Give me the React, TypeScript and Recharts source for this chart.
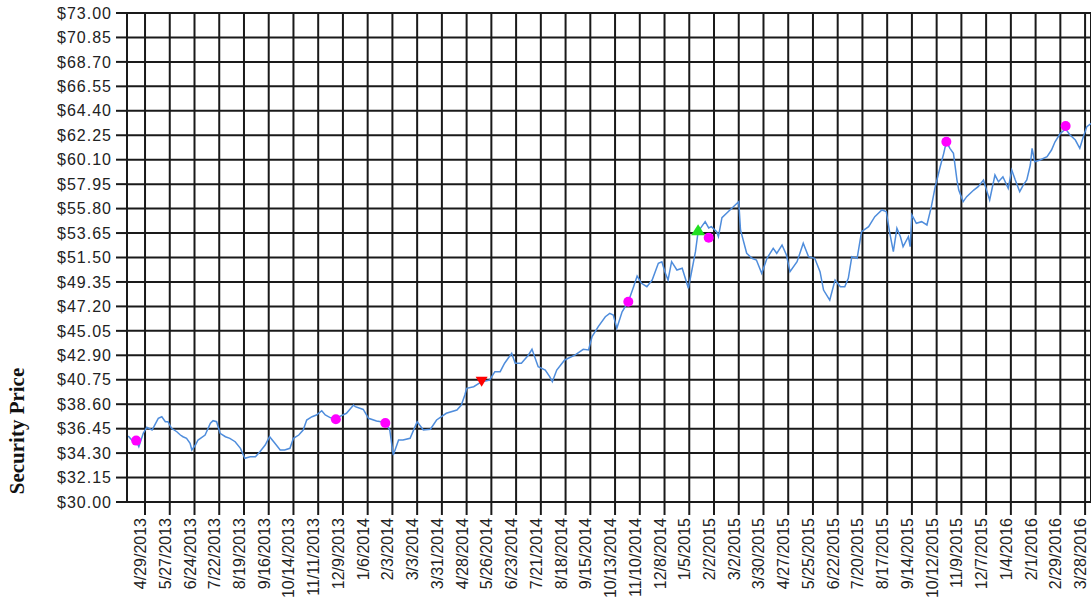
import React from 'react';
import { ComposedChart, Line, Scatter, XAxis, YAxis, CartesianGrid } from 'recharts';

// x values are days counted from 4/29/2013
const days = [
  -19, -15, -10, -7, -2, 2, 8, 15, 19, 23, 26, 30, 36, 40, 43, 47, 51, 53, 57, 60,
  68, 74, 77, 81, 85, 91, 96, 102, 108, 113, 119, 125, 130, 136, 141, 147, 153, 158, 164, 168,
  174, 179, 183, 189, 194, 200, 204, 210, 217, 228, 236, 238, 247, 253, 262, 272, 277, 281, 287, 292,
  300, 308, 315, 323, 330, 341, 353, 358, 362, 364, 372, 381, 390, 396, 402, 407, 415, 419, 426, 434,
  438, 441, 445, 453, 458, 461, 466, 475, 487, 496, 502, 506, 513, 521, 526, 530, 534, 540, 547, 553,
  557, 562, 568, 574, 581, 585, 589, 592, 596, 602, 608, 615, 619, 623, 626, 634, 638, 641, 647, 649,
  653, 660, 668, 672, 674, 681, 687, 692, 698, 704, 711, 715, 721, 726, 730, 738, 745, 751, 758, 764,
  768, 775, 781, 787, 792, 796, 800, 806, 811, 819, 826, 834, 839, 843, 847, 851, 855, 858, 864, 866,
  868, 873, 879, 885, 890, 894, 900, 904, 907, 911, 915, 919, 921, 926, 930, 938, 943, 949, 953, 956,
  962, 966, 971, 977, 981, 985, 990, 994, 998, 1002, 1004, 1007, 1013, 1021, 1026, 1030, 1036, 1042, 1047, 1053,
  1058, 1062, 1066, 1071,
];

const prices = [
  35.8, 35.45, 35.4, 34.86, 36.04, 36.57, 36.33, 37.36, 37.5, 37.06, 37.06, 36.48, 36.18, 35.89, 35.74, 35.6, 35.16, 34.57, 35.01, 35.45,
  35.89, 36.92, 37.15, 37.06, 36.04, 35.74, 35.6, 35.3, 34.72, 33.84, 33.98, 33.98, 34.42, 35.01, 35.74, 35.16, 34.57, 34.57, 34.72, 35.6,
  35.89, 36.33, 37.21, 37.5, 37.65, 38.03, 37.65, 37.4, 37.4, 37.8, 38.53, 38.38, 38.14, 37.36, 37.13, 37.0, 36.33, 34.13, 35.45, 35.45,
  35.6, 37.06, 36.33, 36.4, 37.21, 37.8, 38.09, 38.53, 39.41, 40.0, 40.14, 40.58, 40.73, 41.46, 41.46, 42.2, 43.08, 42.2, 42.2, 42.93,
  43.43, 42.78, 41.9, 41.6, 41.02, 40.58, 41.6, 42.49, 42.93, 43.43, 43.37, 44.54, 45.42, 46.29, 46.59, 46.44, 45.27, 46.73, 47.61, 48.93,
  49.87, 49.23, 48.93, 49.52, 50.99, 51.13, 50.11, 49.52, 51.13, 50.4, 50.55, 48.79, 50.4, 52.01, 53.77, 54.65, 54.1, 54.21, 53.77, 53.33,
  55.0, 55.53, 56.12, 56.41, 53.92, 51.87, 51.43, 51.28, 50.11, 51.43, 52.31, 51.87, 52.6, 51.72, 50.25, 51.13, 52.75, 51.57, 51.43, 50.25,
  48.64, 47.76, 49.52, 48.93, 48.93, 49.67, 51.57, 51.43, 53.77, 54.21, 55.09, 55.68, 55.53, 53.63, 52.01, 54.07, 53.33, 52.45, 53.33, 52.45,
  55.24, 54.51, 54.65, 54.36, 55.97, 57.58, 59.48, 60.66, 61.68, 61.1, 60.66, 58.31, 57.43, 56.41, 56.85, 57.43, 57.73, 58.31, 57.29, 56.56,
  58.75, 58.16, 58.6, 57.58, 59.19, 58.31, 57.29, 57.87, 58.31, 59.63, 61.1, 59.92, 60.07, 60.36, 60.95, 61.68, 62.42, 62.8, 62.27, 61.83,
  61.1, 62.12, 63.0, 63.3,
];

// magenta markers
const dotDays = [-10, 216, 272, 547, 638, 907, 1042];
const dotPrices = [35.4, 37.27, 36.95, 47.61, 53.24, 61.68, 63.06];
// red down triangle
const sellDays = [381];
const sellPrices = [40.58];
// green up triangle
const buyDays = [626];
const buyPrices = [53.9];

const tickLabels = [
  '4/29/2013', '5/27/2013', '6/24/2013', '7/22/2013', '8/19/2013', '9/16/2013', '10/14/2013', '11/11/2013', '12/9/2013',
  '1/6/2014', '2/3/2014', '3/3/2014', '3/31/2014', '4/28/2014', '5/26/2014', '6/23/2014', '7/21/2014', '8/18/2014',
  '9/15/2014', '10/13/2014', '11/10/2014', '12/8/2014', '1/5/2015', '2/2/2015', '3/2/2015', '3/30/2015', '4/27/2015',
  '5/25/2015', '6/22/2015', '7/20/2015', '8/17/2015', '9/14/2015', '10/12/2015', '11/9/2015', '12/7/2015', '1/4/2016',
  '2/1/2016', '2/29/2016', '3/28/2016',
];
const tickDays = tickLabels.map((_, i) => i * 28);

const yTicks = [
  30, 32.15, 34.3, 36.45, 38.6, 40.75, 42.9, 45.05, 47.2, 49.35, 51.5,
  53.65, 55.8, 57.95, 60.1, 62.25, 64.4, 66.55, 68.7, 70.85, 73,
];

const data = days.map((d, i) => ({ day: d, price: prices[i] }));
const dots = dotDays.map((d, i) => ({ day: d, price: dotPrices[i] }));
const sells = sellDays.map((d, i) => ({ day: d, price: sellPrices[i] }));
const buys = buyDays.map((d, i) => ({ day: d, price: buyPrices[i] }));

const DateTick = ({ x, y, payload }: any) => {
  const label = tickLabels[Math.round(payload.value / 28)];
  return (
    <text
      x={x}
      y={y}
      dy={1}
      textAnchor="end"
      transform={`rotate(-90, ${x}, ${y})`}
      fontFamily="Arial, 'Liberation Sans', sans-serif"
      fontSize={16}
      fill="#222"
    >
      {label}
    </text>
  );
};

const Dot = ({ cx, cy }: any) => <circle cx={cx} cy={cy} r={5} fill="#ff00ff" />;
const DownTri = ({ cx, cy }: any) => (
  <polygon points={`${cx - 6},${cy - 5} ${cx + 6},${cy - 5} ${cx},${cy + 5}`} fill="#ff0000" />
);
const UpTri = ({ cx, cy }: any) => (
  <polygon points={`${cx - 7},${cy + 5} ${cx + 7},${cy + 5} ${cx},${cy - 6}`} fill="#22e022" />
);

const App = () => {
  return (
    <div style={{ position: 'absolute', left: 0, top: 0, width: 1091, height: 599, background: '#fff' }}>
      <ComposedChart width={1091} height={599} data={data} margin={{ top: 13, right: 0, bottom: 0, left: 0 }}>
        <CartesianGrid stroke="#1a1a1a" strokeWidth={2} />
        <XAxis
          dataKey="day"
          type="number"
          domain={[-20.4, 1070.7]}
          ticks={tickDays}
          interval={0}
          height={97}
          tickSize={13}
          tickMargin={3}
          tick={<DateTick />}
          axisLine={{ stroke: '#1a1a1a', strokeWidth: 2 }}
          tickLine={{ stroke: '#1a1a1a', strokeWidth: 2 }}
          allowDataOverflow
        />
        <YAxis
          type="number"
          domain={[30, 73]}
          ticks={yTicks}
          interval={0}
          width={127}
          tickSize={11}
          tickMargin={4}
          tickFormatter={(v: number) => `$${v.toFixed(2)}`}
          tick={{ fontSize: 16, fill: '#222', fontFamily: "Arial, 'Liberation Sans', sans-serif", letterSpacing: 1 }}
          axisLine={{ stroke: '#1a1a1a', strokeWidth: 2 }}
          tickLine={{ stroke: '#1a1a1a', strokeWidth: 2 }}
          label={{
            content: () => (
              <text
                x={24}
                y={431}
                transform="rotate(-90, 24, 431)"
                textAnchor="middle"
                fontFamily="'Times New Roman', 'Liberation Serif', serif"
                fontWeight="bold"
                fontSize={21}
                fill="#111"
              >
                Security Price
              </text>
            ),
          }}
        />
        <Line
          dataKey="price"
          type="linear"
          stroke="#4f8ddc"
          strokeWidth={1.5}
          dot={false}
          isAnimationActive={false}
        />
        <Scatter data={dots} dataKey="price" shape={<Dot />} isAnimationActive={false} />
        <Scatter data={sells} dataKey="price" shape={<DownTri />} isAnimationActive={false} />
        <Scatter data={buys} dataKey="price" shape={<UpTri />} isAnimationActive={false} />
      </ComposedChart>
    </div>
  );
};

export default App;
